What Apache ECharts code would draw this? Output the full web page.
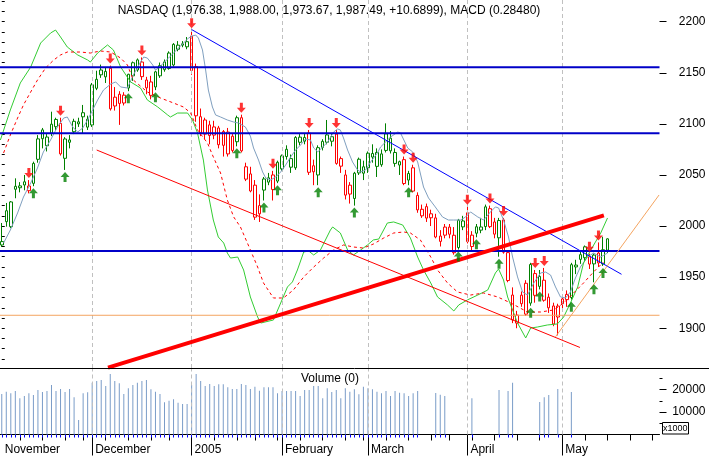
<!DOCTYPE html>
<html><head><meta charset="utf-8">
<script src="https://cdn.jsdelivr.net/npm/echarts@6/dist/echarts.min.js"></script>
<style>html,body{margin:0;padding:0;background:#fff}#c{width:709px;height:457px}</style>
</head><body><div id="c"></div>
<script>
// ---------- data ----------
const holidays = ['2004-11-25','2004-12-24','2005-01-17','2005-02-21','2005-03-25'];
const firstDay = '2004-11-02';
const slotCount = 146;
const monthKeys   = ['2004-11','2004-12','2005-01','2005-02','2005-03','2005-04','2005-05'];
const monthLabels = ['November','December','2005','February','March','April','May'];
const titleText = 'NASDAQ (1,976.38, 1,988.00, 1,973.67, 1,987.49, +10.6899), MACD (0.28480)';

const openP = [
1981.5,2015.0,1999.4,2036.0,2037.5,2040.2,2039.2,2041.8,2065.3,2085.5,
2087.1,2090.8,2097.2,2100.5,2066.3,2082.0,2092.3,2100.0,2110.9,2104.5,
2098.9,2134.8,2152.7,2146.0,2154.4,2117.5,2120.0,2120.4,2135.1,2147.0,
2152.7,2160.5,2142.9,2141.0,2136.1,2147.0,2153.0,2169.3,2157.6,2173.0,
2177.0,2180.4,2186.0,2156.0,2107.0,2103.8,2099.0,2089.0,2096.0,2079.0,
2092.0,2074.0,2082.5,2106.0,2058.0,2051.0,2040.0,2012.0,2035.2,2043.0,
2050.0,2044.0,2056.0,2068.0,2066.0,2057.0,2087.0,2083.0,2091.0,2059.0,
2050.0,2077.0,2082.0,2083.0,2090.0,2066.0,2050.0,2040.0,2027.0,2052.0,
2058.0,2057.0,2071.0,2072.0,2060.0,2074.0,2086.0,2072.0,2063.0,2065.0,
2045.0,2057.0,2030.0,2010.0,2019.0,2012.0,2008.0,1985.0,1999.0,1999.0,
1991.0,1979.0,2005.0,2013.0,1980.0,1993.0,1996.0,1999.5,2017.0,2004.0,
1988.5,2006.0,1974.0,1932.5,1905.0,1924.0,1944.0,1924.6,1953.5,1941.0,
1947.0,1920.0,1921.8,1911.0,1924.0,1928.0,1930.0,1960.0,1972.0,1969.0,
1970.0,1963.0,1973.6,1963.0,1976.38];
const highP = [
2003.0,2022.6,2024.5,2046.7,2043.0,2050.0,2045.0,2063.0,2089.0,2096.0,
2090.0,2111.9,2106.0,2106.0,2087.0,2089.0,2105.0,2106.0,2118.5,2108.0,
2140.0,2152.0,2158.0,2155.0,2157.0,2136.0,2132.0,2131.0,2149.0,2161.0,
2164.0,2165.0,2146.0,2147.0,2152.0,2160.0,2163.0,2171.0,2179.0,2181.0,
2181.0,2185.0,2191.6,2159.0,2115.0,2106.0,2103.0,2103.0,2098.0,2094.0,
2096.0,2090.0,2108.0,2109.0,2062.0,2058.0,2045.0,2031.0,2048.0,2052.0,
2054.0,2064.0,2070.0,2079.0,2070.0,2088.0,2090.0,2091.0,2094.0,2065.0,
2079.0,2085.0,2103.8,2091.0,2094.0,2068.0,2055.0,2043.0,2053.0,2067.0,
2064.0,2073.0,2080.0,2076.0,2075.0,2100.5,2093.0,2076.0,2064.0,2068.0,
2054.0,2060.0,2033.0,2021.0,2022.0,2016.0,2012.0,1996.0,2002.0,2002.0,
1999.0,2007.0,2010.0,2019.0,1995.0,2002.0,2008.0,2021.0,2020.0,2008.0,
2008.0,2008.0,1976.0,1940.0,1917.0,1936.0,1947.0,1964.0,1957.0,1957.0,
1959.0,1934.0,1925.0,1924.0,1932.0,1937.0,1964.0,1967.0,1975.0,1981.0,
1973.0,1973.0,1984.0,1989.6,1988.00];
const lowP = [
1979.5,1999.4,1998.0,2027.2,2033.0,2035.0,2032.0,2039.0,2062.0,2076.0,
2073.0,2088.0,2094.0,2069.0,2054.9,2076.0,2090.0,2097.0,2091.0,2094.0,
2097.0,2133.0,2145.0,2140.0,2113.0,2113.0,2099.0,2118.0,2132.0,2142.0,
2151.0,2143.0,2129.0,2124.0,2133.0,2145.0,2151.0,2153.0,2156.0,2171.0,
2175.0,2173.0,2148.0,2102.0,2088.0,2085.0,2080.0,2085.0,2076.0,2068.0,
2068.0,2072.0,2078.0,2072.0,2044.0,2033.0,2006.0,2004.0,2025.0,2040.0,
2025.0,2042.0,2054.0,2065.0,2052.0,2055.0,2079.0,2080.0,2050.0,2040.0,
2040.0,2074.0,2080.0,2078.0,2060.0,2052.0,2026.0,2022.0,2020.0,2050.0,
2045.0,2052.0,2062.0,2048.0,2058.0,2072.0,2071.0,2058.0,2050.0,2040.0,
2040.0,2033.0,2013.0,2008.0,2004.0,2000.0,1988.0,1980.0,1988.0,1988.0,
1972.0,1977.0,1996.0,1983.0,1975.0,1989.0,1993.0,1996.0,1998.0,1988.0,
1970.0,1973.0,1945.0,1905.0,1900.0,1921.0,1912.0,1922.0,1925.0,1938.0,
1926.0,1915.0,1902.0,1893.0,1916.0,1921.0,1928.0,1953.0,1963.0,1965.0,
1958.0,1945.0,1960.0,1961.0,1973.67];
const closeP = [
1984.8,2004.3,2023.6,2038.9,2039.3,2043.3,2034.6,2061.3,2085.3,2094.1,
2078.6,2099.7,2104.3,2070.6,2085.2,2084.3,2102.5,2102.0,2106.9,2096.8,
2138.2,2143.6,2148.0,2151.3,2114.7,2126.1,2129.0,2128.1,2148.5,2159.8,
2162.6,2146.2,2135.2,2127.9,2150.9,2157.0,2160.6,2154.2,2177.8,2177.0,
2178.3,2175.4,2152.2,2107.9,2091.2,2090.0,2088.6,2097.0,2079.6,2092.5,
2070.6,2087.9,2106.0,2073.6,2045.9,2034.3,2008.7,2020.0,2046.1,2047.2,
2035.8,2062.4,2068.7,2075.1,2057.6,2086.7,2082.0,2086.7,2052.6,2053.1,
2076.7,2082.9,2089.2,2087.4,2061.3,2058.6,2030.3,2031.3,2051.7,2065.4,
2051.7,2071.3,2067.5,2058.4,2070.6,2090.2,2073.6,2061.3,2059.7,2041.6,
2051.4,2034.2,2015.8,2016.4,2007.8,2008.1,1989.3,1990.2,1991.1,1992.0,
1973.9,2005.7,1999.2,1984.8,1991.1,1999.3,1999.1,2018.8,1999.4,1992.1,
2005.4,1974.4,1946.7,1908.2,1912.9,1932.4,1913.8,1962.4,1932.2,1950.8,
1927.4,1930.4,1904.2,1921.7,1928.7,1933.1,1962.2,1961.8,1967.4,1979.7,
1962.8,1971.6,1963.9,1976.8,1987.49];
const volume = [
18060,19100,18370,19400,16140,17170,18370,17610,19850,18950,
19400,22080,19400,20300,18950,20300,16590,6470,18370,18820,
23100,23860,24310,21630,26980,23860,22830,18060,20600,22080,
23100,23860,24310,20160,19100,18060,14360,15070,15700,14180,
13600,13600,22080,26980,23860,21630,22520,21630,22390,22390,
21050,20300,20300,22520,22080,20300,21320,19540,21050,21050,
21050,18370,19400,19400,19400,19400,17170,19850,19850,21630,
21630,16140,20600,18950,19850,16140,20600,19100,20160,18000,
21320,20600,20160,19100,18370,19400,17170,19400,18650,18370,
17170,18370,19400,null,null,null,18510,17750,17170,null,
null,null,null,null,16140,null,null,null,null,null,
19850,null,19400,23100,null,null,null,null,null,14500,
16590,17610,null,20300,null,null,18950,null,null,null,
null,null,null,null,null];
const sellSignals = ['2004-11-10','2004-11-19','2004-12-07','2004-12-16','2005-01-03','2005-01-19','2005-01-28','2005-02-09','2005-02-17','2005-03-11','2005-03-15','2005-04-01','2005-04-08','2005-04-13','2005-04-22','2005-04-26','2005-05-10','2005-05-12'];
const buySignals  = ['2004-11-11','2004-11-22','2004-12-13','2004-12-21','2005-01-18','2005-01-26','2005-01-31','2005-02-11','2005-02-24','2005-03-14','2005-03-30','2005-04-05','2005-04-12','2005-04-21','2005-04-25','2005-05-04','2005-05-11','2005-05-13'];
// overlay curves read as [day index, price-scale value]
const maLine = [[0.4,1983.4],[1.9,1996.1],[3.5,2012.8],[4.8,2028.4],[6.4,2042.1],[7.9,2056.8],[9.2,2072.5],[10.8,2084.2],[12.3,2096.9],[13.7,2105.7],[14.5,2106.7],[15.7,2096.9],[16.8,2092.0],[17.9,2095.9],[19.0,2103.8],[20.1,2113.6],[21.2,2123.3],[22.5,2133.1],[24.1,2139.0],[25.2,2141.0],[26.3,2136.1],[27.8,2135.1],[29.1,2147.8],[30.7,2160.5],[31.4,2165.4],[32.2,2164.4],[33.4,2157.6],[34.0,2152.7],[34.7,2154.7],[35.8,2159.6],[36.9,2164.4],[38.0,2169.3],[39.1,2174.2],[40.2,2179.1],[41.3,2184.0],[42.2,2186.0],[42.9,2186.9],[43.5,2184.0],[44.4,2172.3],[45.1,2152.7],[45.7,2133.1],[46.6,2116.5],[47.3,2108.7],[48.4,2106.7],[49.9,2103.8],[51.3,2101.8],[52.4,2100.8],[53.9,2096.9],[55.0,2088.0],[55.7,2076.4],[56.8,2064.6],[57.7,2052.9],[58.4,2047.0],[59.5,2045.1],[60.6,2048.0],[61.7,2052.9],[62.8,2059.7],[63.9,2067.6],[65.0,2074.4],[66.1,2079.3],[67.2,2085.2],[68.3,2084.2],[69.0,2076.4],[69.9,2072.5],[71.0,2077.4],[72.1,2082.3],[73.4,2092.0],[74.3,2095.0],[74.9,2094.0],[75.6,2086.2],[76.5,2074.4],[77.6,2062.7],[78.7,2054.9],[79.4,2052.9],[80.5,2054.9],[81.6,2062.7],[83.1,2071.5],[83.8,2077.4],[86.0,2087.1],[87.6,2092.0],[88.2,2091.1],[89.8,2076.4],[90.9,2072.5],[92.0,2062.7],[93.3,2038.2],[94.4,2027.5],[95.9,2018.7],[97.5,2008.9],[98.8,2005.9],[99.9,2005.9],[101.5,2005.9],[102.6,2008.9],[103.7,2013.8],[105.3,2008.9],[106.6,2005.9],[108.1,2013.8],[109.2,2018.7],[109.9,2017.7],[111.0,2005.9],[112.1,1989.3],[113.0,1969.7],[114.1,1950.2],[115.2,1935.5],[116.3,1932.5],[117.7,1944.3],[119.2,1954.1],[120.3,1955.0],[121.4,1952.1],[122.5,1940.4],[123.6,1930.6],[124.7,1929.6],[125.8,1935.5],[126.9,1949.2],[128.0,1959.9],[129.6,1969.7],[130.9,1973.6],[132.5,1969.7],[134.0,1973.6]];
const macdLine = [[-0.3,2084.2],[1.9,2113.6],[4.1,2140.0],[6.4,2155.6],[8.6,2179.1],[10.8,2188.9],[11.9,2191.8],[13.0,2185.0],[14.5,2175.2],[16.8,2167.4],[19.0,2162.5],[19.6,2160.5],[21.2,2169.3],[23.4,2177.2],[24.7,2172.3],[26.3,2155.6],[28.5,2141.0],[30.7,2135.1],[32.2,2123.4],[34.5,2116.5],[36.7,2108.7],[37.3,2106.7],[38.9,2110.6],[41.1,2110.6],[42.2,2103.8],[43.3,2091.1],[44.6,2064.6],[45.5,2035.3],[46.8,2005.9],[47.9,1989.3],[49.1,1983.4],[49.9,1973.6],[50.6,1968.7],[52.2,1969.7],[53.5,1957.0],[55.0,1930.6],[56.6,1911.0],[57.3,1905.1],[60.1,1908.1],[61.7,1924.7],[63.2,1940.4],[64.3,1945.3],[65.4,1957.0],[66.8,1974.6],[67.9,1975.6],[69.0,1971.7],[70.5,1976.6],[72.7,1996.1],[73.2,1999.1],[74.9,1993.2],[76.5,1976.6],[77.8,1971.7],[79.4,1976.6],[80.9,1981.5],[82.2,1986.4],[83.4,1987.3],[85.3,2003.0],[86.7,2004.0],[88.7,2001.0],[90.4,1988.3],[92.0,1969.7],[93.3,1957.0],[94.9,1944.3],[96.4,1930.6],[98.6,1922.8],[100.0,1916.9],[101.1,1922.8],[103.0,1927.7],[105.3,1932.5],[107.5,1937.4],[109.2,1954.1],[109.9,1958.0],[111.0,1947.2],[111.9,1930.6],[113.0,1917.9],[114.1,1905.1],[115.9,1890.5],[117.0,1900.2],[118.5,1901.2],[120.7,1903.2],[122.9,1904.2],[124.3,1911.0],[125.8,1924.7],[127.4,1940.4],[128.7,1963.9],[130.3,1976.6],[132.5,1993.2],[134.0,2007.9]];
const signalLine = [[0.4,2071.5],[1.9,2089.1],[3.5,2105.7],[4.8,2118.5],[6.4,2131.2],[7.9,2142.9],[9.7,2154.7],[11.5,2162.5],[13.0,2167.4],[14.5,2170.3],[17.4,2170.3],[19.6,2169.3],[21.8,2171.3],[24.1,2170.3],[26.3,2164.4],[27.8,2157.6],[29.1,2142.9],[32.2,2131.2],[35.1,2125.3],[38.0,2120.4],[40.2,2116.5],[41.8,2110.6],[43.3,2094.0],[45.5,2081.3],[46.8,2067.6],[48.4,2051.9],[49.9,2025.5],[51.3,2008.9],[52.8,1999.1],[55.0,1976.6],[56.6,1959.9],[57.9,1944.3],[60.1,1929.6],[62.3,1929.6],[64.5,1937.4],[66.8,1950.2],[69.0,1959.9],[71.2,1968.7],[73.4,1976.6],[75.6,1981.5],[77.8,1979.5],[80.0,1978.5],[82.2,1982.4],[84.5,1988.3],[86.7,1993.2],[88.9,1994.2],[90.4,1993.2],[92.6,1986.4],[94.9,1969.7],[96.4,1957.0],[98.6,1944.3],[100.8,1935.5],[103.7,1932.5],[106.6,1934.5],[109.7,1930.6],[112.6,1924.7],[116.3,1915.9],[119.2,1915.9],[122.1,1917.9],[124.3,1924.7],[126.5,1934.5],[128.7,1944.3],[130.9,1955.0],[133.1,1964.8]];
const resistanceLevels = [2155.4, 2090.8, 1975.6];
const supportLevel = 1912.7;
const downTrend    = [[42.0,2192.3],[137.1,1952.8]];
const upTrend      = [[23.5,1861.4],[133.2,2010.5]];
const lowerChannel = [[21.0,2074.4],[127.9,1881.2]];
const steepTrend   = [[122.5,1891.7],[145.4,2030.4]];
const priceMinorTicks = [1870,1880,1890,1900,1910,1920,1930,1940,1950,1960,1970,1980,1990,2000,2010,2020,2030,2040,2050,2060,2070,2080,2090,2100,2110,2120,2130,2140,2150,2160,2170,2180,2190,2200,2210,2220];
const priceMajorTicks = [1900,1950,2000,2050,2100,2150,2200];
const volMinorTicks = [5000,15000,25000];
const volMajorTicks = [10000,20000];

// ---------- build ----------
function buildDates(){
  const out=[]; const p=firstDay.split('-').map(Number);
  const d=new Date(Date.UTC(p[0],p[1]-1,p[2]));
  while(out.length<slotCount){
    const wd=d.getUTCDay(); const s=d.toISOString().slice(0,10);
    if(wd!==0&&wd!==6&&holidays.indexOf(s)<0) out.push(s);
    d.setUTCDate(d.getUTCDate()+1);
  }
  return out;
}
const dates = buildDates();
const wday = s => new Date(s+'T00:00:00Z').getUTCDay();
const isMonthStart = i => i>0 && dates[i].slice(0,7)!==dates[i-1].slice(0,7);
const isWeekStart = i => i>0 && wday(dates[i]) <= wday(dates[i-1]);
const monthStarts = dates.filter((d,i)=>isMonthStart(i));

const GREEN='#008000', RED='#ff0000';
const sellIdx = sellSignals.map(d=>dates.indexOf(d));
const buyIdx = buySignals.map(d=>dates.indexOf(d));
let state='up';
const candleData=[];
for(let i=0;i<closeP.length;i++){
  if(sellIdx.indexOf(i)>=0) state='down';
  if(buyIdx.indexOf(i)>=0) state='up';
  const col = state==='up'?GREEN:RED;
  candleData.push({value:[openP[i],closeP[i],lowP[i],highP[i]],
    itemStyle:{color:'#ffffff',color0:col,borderColor:col,borderColor0:col}});
}
const sellData = sellIdx.map(i=>[i, highP[i]]);
const buyData = buyIdx.map(i=>[i, lowP[i]]);

const FONT = 'Liberation Sans, Arial, sans-serif';
const YMIN=1861.1, YMAX=2221.2, VMAX=29690;
const plain = v => String(Math.round(v));

function seg(data,color,width,type,z){
  return {type:'line',xAxisIndex:1,yAxisIndex:0,data:data,showSymbol:false,symbol:'none',
    lineStyle:{color:color,width:width,type:type||'solid'},z:z||5,silent:true,animation:false};
}
const hLine = v => [[-0.5,v],[145.5,v]];
const dashed = {color:'#c0c0c0',width:1,type:[4,3]};

const chart = echarts.init(document.getElementById('c'));
chart.setOption({
  animation:false,
  backgroundColor:'#ffffff',
  textStyle:{fontFamily:FONT},
  grid:[
    {left:-0.5,top:0,width:660,height:368,containLabel:false,outerBoundsMode:'none'},
    {left:-0.5,top:368,width:660,height:66.5,containLabel:false,outerBoundsMode:'none'}
  ],
  xAxis:[
    {type:'category',gridIndex:0,data:dates,boundaryGap:true,show:false},
    {type:'value',gridIndex:0,min:-0.5,max:145.5,show:false},
    {type:'category',gridIndex:1,data:dates,boundaryGap:true,position:'bottom',
      axisLine:{show:true,lineStyle:{color:'#000',width:1}},
      axisTick:{show:true,alignWithLabel:true,length:21,lineStyle:{color:'#000'},
        interval:(i)=>isMonthStart(i)},
      axisLabel:{show:true,interval:(i)=>i===0||isMonthStart(i),align:'left',padding:[0,0,0,3],
        margin:9,fontSize:12,color:'#000',fontFamily:FONT,
        formatter:(v)=>monthLabels[monthKeys.indexOf(v.slice(0,7))]},
      splitLine:{show:false}},
    {type:'category',gridIndex:1,data:dates,boundaryGap:true,position:'bottom',
      axisLine:{show:false},axisLabel:{show:false},splitLine:{show:false},
      axisTick:{show:true,alignWithLabel:true,length:6,lineStyle:{color:'#000'},
        interval:(i)=>isWeekStart(i)}},
    {type:'category',gridIndex:1,data:dates,boundaryGap:true,position:'bottom',
      axisLine:{show:false},axisLabel:{show:false},splitLine:{show:false},
      axisTick:{show:true,alignWithLabel:true,length:3,lineStyle:{color:'#0000ff'},
        interval:(i)=>volume[i]!=null}}
  ],
  yAxis:[
    {type:'value',gridIndex:0,min:YMIN,max:YMAX,position:'right',axisLine:{show:false},
      splitLine:{show:false},axisLabel:{show:false},
      axisTick:{show:true,length:3,lineStyle:{color:'#000'},customValues:priceMinorTicks}},
    {type:'value',gridIndex:0,min:YMIN,max:YMAX,position:'right',axisLine:{show:false},
      splitLine:{show:false},
      axisTick:{show:true,length:7,lineStyle:{color:'#000'},customValues:priceMajorTicks},
      axisLabel:{show:true,customValues:priceMajorTicks,margin:46,align:'right',fontSize:12,color:'#000',fontFamily:FONT,formatter:plain}},
    {type:'value',gridIndex:1,min:0,max:VMAX,position:'right',axisLine:{show:false},
      splitLine:{show:false},axisLabel:{show:false},
      axisTick:{show:true,length:3,lineStyle:{color:'#000'},customValues:volMinorTicks}},
    {type:'value',gridIndex:1,min:0,max:VMAX,position:'right',axisLine:{show:false},
      splitLine:{show:false},
      axisTick:{show:true,length:7,lineStyle:{color:'#000'},customValues:volMajorTicks},
      axisLabel:{show:true,customValues:volMajorTicks,margin:46,align:'right',fontSize:12,color:'#000',fontFamily:FONT,formatter:plain}}
  ],
  series:[
    {type:'line',xAxisIndex:0,yAxisIndex:0,data:dates.map(()=>null),z:0,silent:true,
      markLine:{silent:true,symbol:'none',label:{show:false},lineStyle:dashed,
        data:monthStarts.map(d=>({xAxis:d}))}},
    {type:'candlestick',xAxisIndex:0,yAxisIndex:0,data:candleData,barWidth:3,z:2,
      itemStyle:{borderWidth:1}},
    seg(maLine,'#7f9fbf',1),
    seg(macdLine,'#33cc33',1),
    seg(signalLine,RED,1,[3,3]),
    seg(hLine(resistanceLevels[0]),'#0000c8',2),
    seg(hLine(resistanceLevels[1]),'#0000c8',2),
    seg(hLine(resistanceLevels[2]),'#0000c8',2),
    seg(hLine(supportLevel),'#f4a460',1),
    seg(lowerChannel,RED,1),
    seg(downTrend,'#0000ff',1),
    seg(steepTrend,'#f4a460',1),
    seg(upTrend,RED,4),
    {type:'scatter',xAxisIndex:0,yAxisIndex:0,data:sellData,z:8,silent:true,
      symbol:'path://M3,0 L6,0 L6,5 L9,5 L4.5,10 L0,5 L3,5 Z',symbolSize:[9,10],symbolOffset:[0,-7],
      itemStyle:{color:RED}},
    {type:'scatter',xAxisIndex:0,yAxisIndex:0,data:buyData,z:8,silent:true,
      symbol:'path://M4.5,0 L9,5 L6,5 L6,10 L3,10 L3,5 L0,5 Z',symbolSize:[9,10],symbolOffset:[0,7],
      itemStyle:{color:GREEN}},
    {type:'bar',xAxisIndex:2,yAxisIndex:2,data:volume,barWidth:1,itemStyle:{color:'#7a9cc8'},silent:true,
      markLine:{silent:true,symbol:'none',label:{show:false},lineStyle:dashed,
        data:monthStarts.map(d=>({xAxis:d}))}}
  ],
  graphic:[
    {type:'line',shape:{x1:0,y1:368.5,x2:709,y2:368.5},style:{stroke:'#000',lineWidth:1},z:50},
    {type:'text',x:329,y:10.5,style:{text:titleText,font:'12px '+FONT,fill:'#000',align:'center',verticalAlign:'middle'},z:50},
    {type:'text',x:330,y:378.5,style:{text:'Volume (0)',font:'12px '+FONT,fill:'#000',align:'center',verticalAlign:'middle'},z:50},
    {type:'rect',shape:{x:662.5,y:422.5,width:26,height:11.5},style:{fill:'#fff',stroke:'#000',lineWidth:1},z:50},
    {type:'text',x:663,y:428.5,style:{text:'x1000',font:'9px '+FONT,fill:'#000',align:'left',verticalAlign:'middle'},z:51}
  ]
});
</script></body></html>
